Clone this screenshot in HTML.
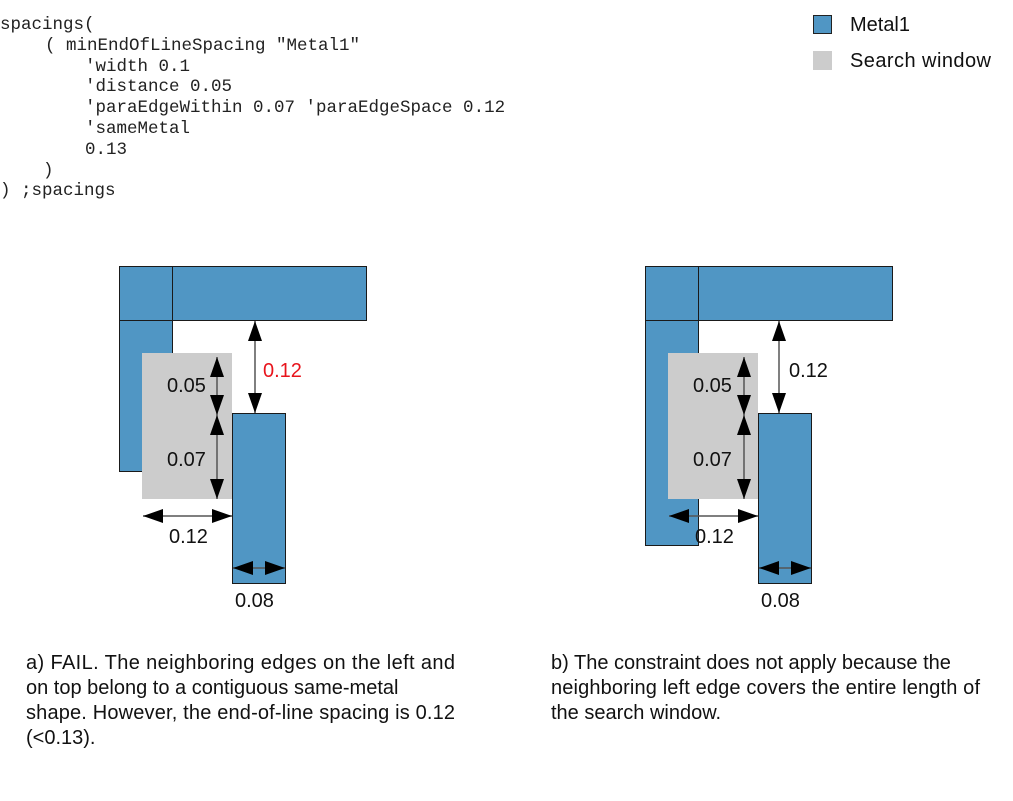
<!DOCTYPE html>
<html><head><meta charset="utf-8"><style>
html,body{margin:0;padding:0;background:#fff;width:1013px;height:801px;overflow:hidden}
svg{display:block}
.m{font-family:"Liberation Mono",monospace;font-size:17.5px;fill:#222;white-space:pre}
.s{font-family:"Liberation Sans",sans-serif;font-size:20px;fill:#111}
.d{font-family:"Liberation Sans",sans-serif;font-size:20px;fill:#111}
</style></head><body>
<svg width="1013" height="801" viewBox="0 0 1013 801" xmlns="http://www.w3.org/2000/svg">
<defs>
<marker id="a" viewBox="0 0 20 14" refX="20" refY="7" markerWidth="20" markerHeight="14" markerUnits="userSpaceOnUse" orient="auto-start-reverse"><path d="M0,0 L20,7 L0,14 Z" fill="#000"/></marker>
</defs>
<g class="m">
<text x="0" y="29">spacings(</text>
<text x="45" y="50">( minEndOfLineSpacing "Metal1"</text>
<text x="85" y="71">'width 0.1</text>
<text x="85" y="91">'distance 0.05</text>
<text x="85" y="112">'paraEdgeWithin 0.07 'paraEdgeSpace 0.12</text>
<text x="85" y="133">'sameMetal</text>
<text x="85" y="154">0.13</text>
<text x="43" y="175">)</text>
<text x="0" y="195">) ;spacings</text>
</g>
<rect x="813.5" y="15.5" width="18" height="18" fill="#5096c4" stroke="#222"/>
<rect x="813" y="51" width="19" height="19" fill="#cccccc"/>
<text class="d" x="850" y="31" textLength="60">Metal1</text>
<text class="d" x="850" y="67" textLength="141">Search window</text>

<!-- left diagram -->
<g stroke="#1a1a1a" stroke-width="1">
<rect x="119.5" y="266.5" width="247" height="54" fill="#5096c4"/>
<rect x="119.5" y="320.5" width="53" height="151" fill="#5096c4"/>
<line x1="172.5" y1="266.5" x2="172.5" y2="320.5"/>
</g>
<rect x="142" y="353" width="90" height="146" fill="#cccccc"/>
<rect x="232.5" y="413.5" width="53" height="170" fill="#5096c4" stroke="#1a1a1a"/>
<g stroke="#555" stroke-width="1.5" fill="none">
<line x1="255" y1="321" x2="255" y2="413" marker-start="url(#a)" marker-end="url(#a)"/>
<line x1="217" y1="357" x2="217" y2="415" marker-start="url(#a)" marker-end="url(#a)"/>
<line x1="217" y1="415" x2="217" y2="499" marker-start="url(#a)" marker-end="url(#a)"/>
<line x1="143" y1="516" x2="232" y2="516" marker-start="url(#a)" marker-end="url(#a)"/>
<line x1="233" y1="568" x2="285" y2="568" marker-start="url(#a)" marker-end="url(#a)"/>
</g>
<text class="d" x="263" y="377" style="fill:#e8141c">0.12</text>
<text class="d" x="167" y="392">0.05</text>
<text class="d" x="167" y="466">0.07</text>
<text class="d" x="169" y="543">0.12</text>
<text class="d" x="235" y="607">0.08</text>

<!-- right diagram -->
<g stroke="#1a1a1a" stroke-width="1">
<rect x="645.5" y="266.5" width="247" height="54" fill="#5096c4"/>
<rect x="645.5" y="320.5" width="53" height="225" fill="#5096c4"/>
<line x1="698.5" y1="266.5" x2="698.5" y2="320.5"/>
</g>
<rect x="668" y="353" width="90" height="146" fill="#cccccc"/>
<rect x="758.5" y="413.5" width="53" height="170" fill="#5096c4" stroke="#1a1a1a"/>
<g stroke="#555" stroke-width="1.5" fill="none">
<line x1="779" y1="321" x2="779" y2="413" marker-start="url(#a)" marker-end="url(#a)"/>
<line x1="744" y1="357" x2="744" y2="415" marker-start="url(#a)" marker-end="url(#a)"/>
<line x1="744" y1="415" x2="744" y2="499" marker-start="url(#a)" marker-end="url(#a)"/>
<line x1="669" y1="516" x2="758" y2="516" marker-start="url(#a)" marker-end="url(#a)"/>
<line x1="759" y1="568" x2="811" y2="568" marker-start="url(#a)" marker-end="url(#a)"/>
</g>
<text class="d" x="789" y="377">0.12</text>
<text class="d" x="693" y="392">0.05</text>
<text class="d" x="693" y="466">0.07</text>
<text class="d" x="695" y="543">0.12</text>
<text class="d" x="761" y="607">0.08</text>

<g class="s">
<text x="26" y="669" textLength="429">a) FAIL. The neighboring edges on the left and</text>
<text x="26" y="694">on top belong to a contiguous same-metal</text>
<text x="26" y="719" textLength="429">shape. However, the end-of-line spacing is 0.12</text>
<text x="26" y="744">(&lt;0.13).</text>
<text x="551" y="669">b) The constraint does not apply because the</text>
<text x="551" y="694" textLength="429">neighboring left edge covers the entire length of</text>
<text x="551" y="719">the search window.</text>
</g>
</svg>
</body></html>
